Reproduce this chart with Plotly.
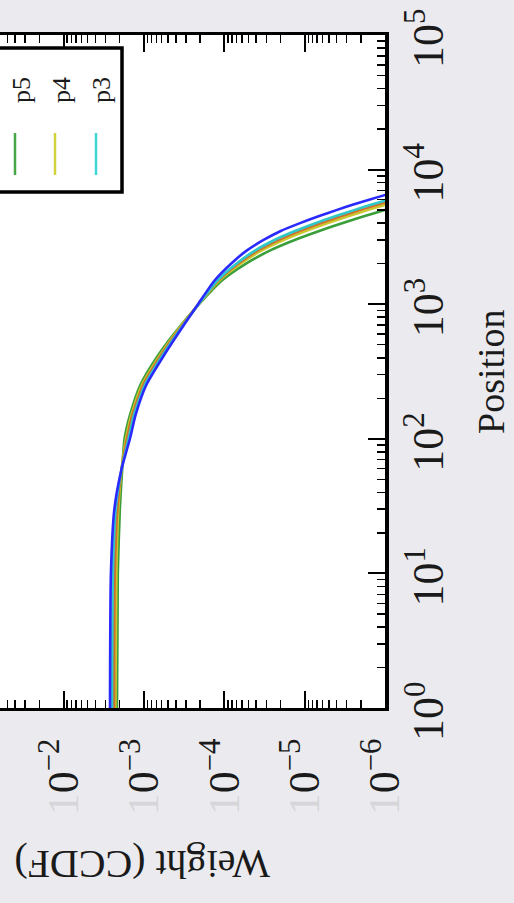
import math
import plotly.graph_objects as go

# ---------------- data ----------------
positions = [1, 10, 30, 60, 100, 150, 250, 400, 600, 1000, 1500, 2000, 2500,
             3000, 3500, 4000, 4500, 5000, 5500, 6000, 6500, 7000]

weight_p7 = [2.64e-3, 2.57e-3, 2.33e-3, 1.89e-3, 1.49e-3, 1.27e-3, 9.36e-4, 5.87e-4,
             3.78e-4, 2.12e-4, 1.32e-4, 8.23e-5, 5.27e-5, 3.24e-5, 1.98e-5, 1.14e-5,
             6.72e-6, 4.03e-6, 2.48e-6, 1.54e-6, 9.80e-7, 6.41e-7]
weight_p3 = [2.49e-3, 2.43e-3, 2.24e-3, 1.89e-3, 1.55e-3, 1.33e-3, 9.77e-4, 6.13e-4,
             3.89e-4, 2.09e-4, 1.22e-4, 7.07e-5, 4.15e-5, 2.37e-5, 1.32e-5, 7.34e-6,
             4.17e-6, 2.43e-6, 1.46e-6, 8.87e-7, 5.53e-7, 3.54e-7]
weight_p6 = [2.35e-3, 2.30e-3, 2.14e-3, 1.89e-3, 1.62e-3, 1.39e-3, 1.02e-3, 6.40e-4,
             4.00e-4, 2.09e-4, 1.19e-4, 6.70e-5, 3.85e-5, 2.12e-5, 1.16e-5, 6.36e-6,
             3.57e-6, 2.06e-6, 1.22e-6, 7.40e-7, 4.58e-7, 2.91e-7]
weight_p4 = [2.26e-3, 2.20e-3, 2.08e-3, 1.89e-3, 1.67e-3, 1.43e-3, 1.06e-3, 6.62e-4,
             4.12e-4, 2.09e-4, 1.15e-4, 6.25e-5, 3.46e-5, 1.83e-5, 9.69e-6, 5.24e-6,
             2.89e-6, 1.65e-6, 9.66e-7, 5.80e-7, 3.57e-7, 2.25e-7]
weight_p5 = [2.16e-3, 2.11e-3, 1.99e-3, 1.86e-3, 1.74e-3, 1.49e-3, 1.11e-3, 6.97e-4,
             4.24e-4, 2.06e-4, 1.07e-4, 5.36e-5, 2.72e-5, 1.33e-5, 6.58e-6, 3.42e-6,
             1.83e-6, 1.01e-6, 5.79e-7, 3.41e-7, 2.05e-7, 1.27e-7]

series_names = ["p5", "p4", "p6", "p3", "p7"]
series_colors = ["#3a9e3a", "#c9c92e", "#d0702a", "#2ec8c8", "#2a2aff"]
series_values = [weight_p5, weight_p4, weight_p6, weight_p3, weight_p7]

legend_names = ["p5", "p4", "p3"]
legend_colors = ["#45a845", "#d2d23c", "#3cd6d6"]

weight_ticks = [1e-6, 1e-5, 1e-4, 1e-3, 1e-2]
weight_exps = ["−6", "−5", "−4", "−3", "−2"]
position_ticks = [1, 10, 100, 1000, 10000, 100000]
position_exps = ["0", "1", "2", "3", "4", "5"]

# ---------------- geometry ----------------
W, H = 514, 903
PL, PR, PT, PB = 0, 385, 35, 708
FONT = "Liberation Serif"
TXT = "#1a1a1a"


def px(x):
    return (x - PL) / (PR - PL)


def py(y):
    return (PB - y) / (PB - PT)


fig = go.Figure()
for name, color, vals in zip(series_names, series_colors, series_values):
    fig.add_trace(go.Scatter(
        x=vals, y=positions, mode="lines", name=name,
        line=dict(color=color, width=2.6, shape="spline", smoothing=0.6),
        showlegend=False, hoverinfo="skip",
    ))

minor_w = [k * 10.0 ** e for e in range(-7, 0) for k in range(2, 10)]
minor_p = [k * 10.0 ** e for e in range(0, 5) for k in range(2, 10)]

fig.update_xaxes(
    type="log", range=[-1.21, -6],
    showline=True, linecolor="black", linewidth=3, mirror="ticks",
    ticks="inside", ticklen=17, tickwidth=2, tickcolor="black",
    tickmode="array", tickvals=weight_ticks,
    ticktext=['<span style="color:#d6d6da">1</span>0<sup>%s</sup>' % e for e in weight_exps],
    tickangle=-90, ticklabelstandoff=10,
    tickfont=dict(family=FONT, size=44, color=TXT),
    minor=dict(ticks="inside", ticklen=8, tickwidth=1.5, tickcolor="black",
               tickmode="array", tickvals=minor_w),
    showgrid=False, zeroline=False,
)
fig.update_yaxes(
    type="log", range=[0, 5], side="right",
    showline=True, linecolor="black", linewidth=3.5, mirror=False,
    ticks="inside", ticklen=17, tickwidth=2, tickcolor="black",
    tickmode="array", tickvals=position_ticks, showticklabels=False,
    minor=dict(ticks="inside", ticklen=8, tickwidth=1.5, tickcolor="black",
               tickmode="array", tickvals=minor_p),
    showgrid=False, zeroline=False,
)

shapes = [
    dict(type="rect", xref="paper", yref="paper",
         x0=px(-20), x1=px(122), y0=py(192), y1=py(48),
         line=dict(color="black", width=3.5), fillcolor="white", layer="above"),
]
annotations = []

# rotated position tick labels
for v, e in zip(position_ticks, position_exps):
    annotations.append(dict(xref="paper", yref="y", x=px(425), y=math.log10(v),
                            text="10<sup>%s</sup>" % e, showarrow=False, textangle=-90,
                            font=dict(family=FONT, size=44, color=TXT),
                            xanchor="center", yanchor="middle", yshift=-4))

legend_x = [15, 55, 96]
text_x = [21, 61, 101]
for lx, tx, name, color in zip(legend_x, text_x, legend_names, legend_colors):
    shapes.append(dict(type="line", xref="paper", yref="paper",
                       x0=px(lx), x1=px(lx), y0=py(175), y1=py(133),
                       line=dict(color=color, width=2.5), layer="above"))
    annotations.append(dict(xref="paper", yref="paper", x=px(tx), y=py(90),
                            text=name, showarrow=False, textangle=-90,
                            font=dict(family=FONT, size=26, color=TXT),
                            xanchor="center", yanchor="middle"))

annotations.append(dict(xref="paper", yref="paper", x=px(491), y=py(372),
                        text="Position", showarrow=False, textangle=-90,
                        font=dict(family=FONT, size=38, color=TXT),
                        xanchor="center", yanchor="middle"))
annotations.append(dict(xref="paper", yref="paper", x=px(142), y=py(865),
                        text="Weight (CCDF)", showarrow=False, textangle=180,
                        font=dict(family=FONT, size=40, color=TXT),
                        xanchor="center", yanchor="middle"))

fig.update_layout(
    width=W, height=H,
    margin=dict(l=PL, r=W - PR, t=PT, b=H - PB, pad=0),
    paper_bgcolor="#ebebef", plot_bgcolor="white",
    shapes=shapes, annotations=annotations, showlegend=False,
    hovermode=False,
)

fig.write_html("out.html", config={"displayModeBar": False, "staticPlot": True},
               post_script="document.body.style.margin='0px';document.body.style.padding='0px';")
